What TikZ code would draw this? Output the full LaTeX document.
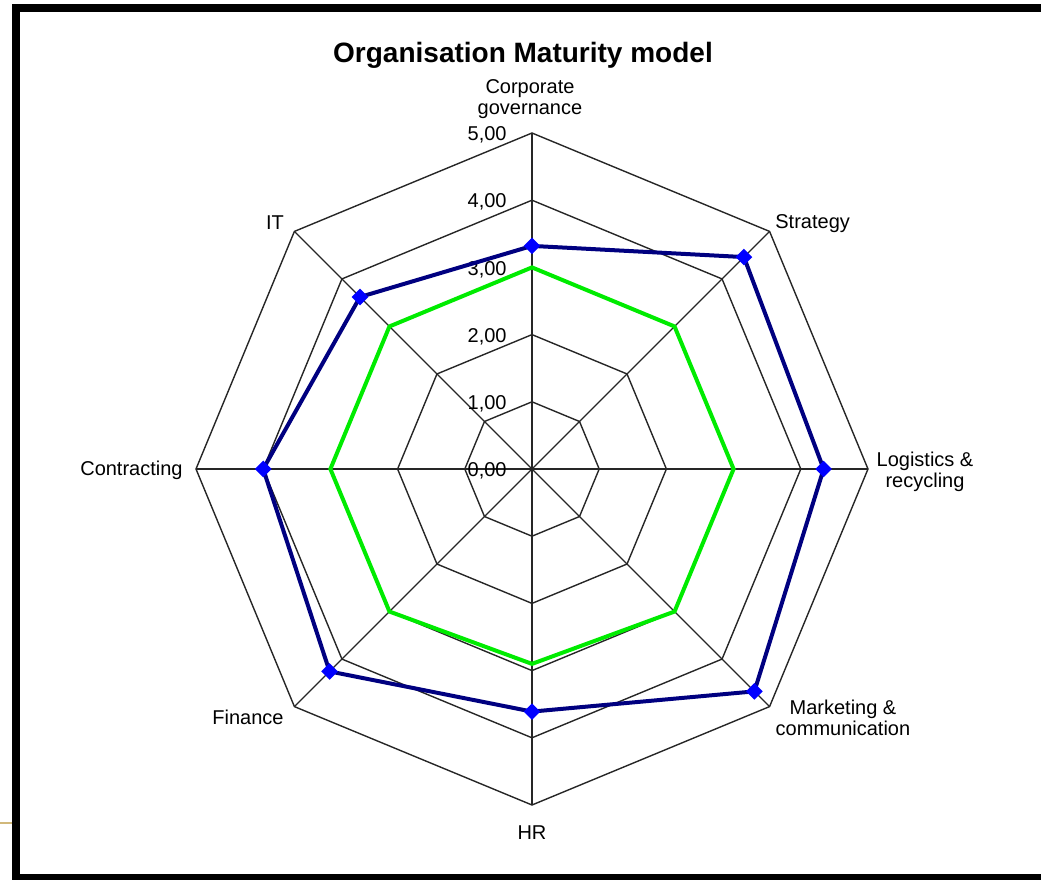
\documentclass[tikz,border=0pt]{standalone}
\usepackage{fontspec}
\setmainfont{Liberation Sans}
\usepackage{tikz}
\usepackage{xcolor}
\usetikzlibrary{shapes.geometric}
\definecolor{webline}{rgb}{0.15,0.15,0.15}
\definecolor{actual}{rgb}{0,0,0.5}
\definecolor{marker}{rgb}{0,0,1}
\definecolor{target}{rgb}{0,0.92,0}
\definecolor{smudge}{rgb}{0.82,0.72,0.48}
\tikzstyle{web} = [draw=webline, line width=0.7pt]
\tikzstyle{axislabel} = [font=\fontsize{10}{10.5}\selectfont, align=center, inner sep=0pt]
\tikzstyle{valuelabel} = [font=\fontsize{10}{12}\selectfont, anchor=east, inner sep=0pt]
\tikzstyle{dot} = [diamond, fill=marker, inner sep=0pt, minimum size=8.5pt]
\def\unit{67.2}

\begin{document}
\begin{tikzpicture}[x=0.5pt, y=0.5pt]
\useasboundingbox (-532,-411) rectangle (509,469);
\draw[line width=4pt] (-516,461) rectangle (545,-409);
\draw[smudge, line width=1pt] (-532,-354) -- (-520,-354);

\node (title) at (-9,414) {\fontsize{14}{16}\selectfont\bfseries Organisation Maturity model};

\foreach \v in {1,...,5}
  \draw[web] (0:{\v*\unit}) \foreach \a in {45,90,...,315} {-- (\a:{\v*\unit})} -- cycle;
\foreach \a in {0,45,...,315}
  \draw[web] (0,0) -- (\a:{5*\unit});

\foreach \v in {0,...,5}
  \node[valuelabel] (val\v) at (-25,{\v*\unit-2}) {\v,00};

\foreach \a/\v [count=\i] in {90/3,45/3,0/3,-45/3,-90/2.9,-135/3,180/3,135/3}
  \coordinate (g\i) at (\a:{\v*\unit});
\draw[target, line width=2pt] (g1) -- (g2) -- (g3) -- (g4) -- (g5) -- (g6) -- (g7) -- (g8) -- cycle;

\foreach \a/\v [count=\i] in {90/3.32,45/4.46,0/4.34,-45/4.68,-90/3.61,-135/4.26,180/4.0,135/3.62}
  \coordinate (b\i) at (\a:{\v*\unit});
\draw[actual, line width=2pt] (b1) -- (b2) -- (b3) -- (b4) -- (b5) -- (b6) -- (b7) -- (b8) -- cycle;
\foreach \i in {1,...,8}
  \node[dot] (m\i) at (b\i) {};

\node[axislabel] (corporate) at (-2,369.5) {Corporate\\governance};
\node[axislabel, anchor=west] (strategy) at (243,245) {Strategy};
\node[axislabel] (logistics) at (393,-2.5) {Logistics \&\\recycling};
\node[axislabel] (marketing) at (311,-248.5) {Marketing \&\\communication};
\node[axislabel] (hr) at (0,-364) {HR};
\node[axislabel] (finance) at (-284,-248) {Finance};
\node[axislabel, anchor=east] (contracting) at (-349,-1) {Contracting};
\node[axislabel] (it) at (-257,246) {IT};
\end{tikzpicture}
\end{document}
